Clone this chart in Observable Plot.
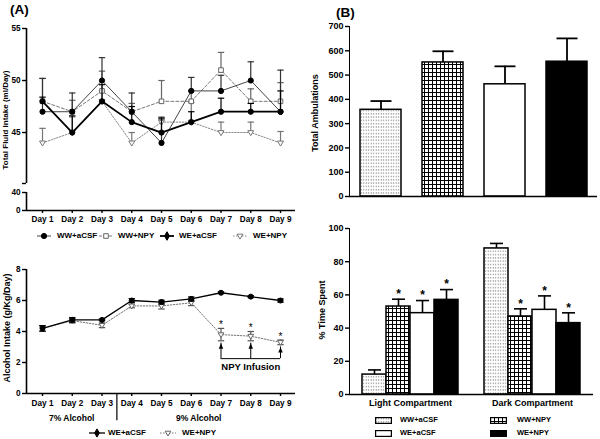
<!DOCTYPE html>
<html><head><meta charset="utf-8">
<script src="https://cdn.jsdelivr.net/npm/d3@7"></script>
<script src="https://cdn.jsdelivr.net/npm/@observablehq/plot@0.6"></script>
<style>
body{margin:0;background:#fff;}
#fig{position:relative;width:600px;height:439px;overflow:hidden;background:#fff;font-family:"Liberation Sans",Arial,Helvetica,sans-serif;font-weight:bold;color:#000;}
.lbl{position:absolute;white-space:nowrap;font-weight:bold;line-height:1;}
.rot{transform:translate(-50%,-50%) rotate(-90deg);}
.ctr{transform:translate(0,-50%);}
#fig svg [aria-label$="tick"] path, #fig svg [aria-label$="tick"] line{stroke-width:1.4;}
#fig svg text{fill:#000;}
</style></head><body>
<svg width="0" height="0" style="position:absolute">
  <defs>
    <pattern id="dots" width="2.5" height="3.3" patternUnits="userSpaceOnUse">
      <rect width="2.5" height="3.3" fill="#fff"/>
      <rect x="0.7" y="1.1" width="1" height="1" fill="#555"/>
    </pattern>
    <pattern id="grid" width="4" height="4" patternUnits="userSpaceOnUse">
      <rect width="4" height="4" fill="#fff"/>
      <path d="M0 0.5H4M0.5 0V4" stroke="#000" stroke-width="1"/>
    </pattern>
  </defs>
</svg>
<div id="fig"></div>
<script>
// ---------------- DATA ----------------
const groups = ["WW+aCSF", "WW+NPY", "WE+aCSF", "WE+NPY"];
const days = [1, 2, 3, 4, 5, 6, 7, 8, 9];

// (A) top: Total fluid intake (ml/day), mean and upper SEM
const fluidWWaCSF    = [47, 47, 50, 47, 44, 49, 49, 50, 47];
const fluidWWaCSFErr = [3.2, 1.8, 2.2, 1.8, 2.3, 1.3, 1.5, 1.8, 4.0];
const fluidWWNPY     = [48, 47, 49, 47, 48, 48, 51, 48, 48];
const fluidWWNPYErr  = [2.2, 1.1, 1.9, 0.8, 2.0, 1.0, 1.7, 1.2, 1.8];
const fluidWEaCSF    = [48, 45, 48, 46, 45, 46, 47, 47, 47];
const fluidWEaCSFErr = [0.4, 1.6, 1.6, 1.5, 1.4, 1.0, 1.3, 0.8, 2.0];
const fluidWENPY     = [44, 45, 48, 44, 46, 46, 45, 45, 44];
const fluidWENPYErr  = [1.4, 1.5, 1.0, 1.0, 0.5, 1.9, 1.0, 1.0, 1.1];
const fluidUpperTicks = [45, 50, 55];
const fluidLowerTicks = [0, 40];
const fluidBreak = 40.1; // axis break just above 40

// (A) bottom: Alcohol intake (g/kg/day)
const alcGroups = ["WE+aCSF", "WE+NPY"];
const alcWEaCSF    = [4.2, 4.75, 4.75, 6.0, 5.9, 6.1, 6.5, 6.25, 6.0];
const alcWEaCSFErr = [0.18, 0.15, 0.05, 0.12, 0.12, 0.13, 0.05, 0.06, 0.1];
const alcWENPY     = [4.2, 4.7, 4.4, 5.65, 5.65, 5.85, 3.8, 3.7, 3.3];
const alcWENPYErr  = [0.18, 0.15, 0.15, 0.12, 0.2, 0.18, 0.4, 0.3, 0.15];
const alcTicks = [0, 2, 4, 6, 8];
const infusionDays = [7, 8, 9];
const infusionLabel = "NPY Infusion";
const phaseLabels = ["7% Alcohol", "9% Alcohol"];
const phaseSplit = 3.5; // between Day 3 and Day 4

// (B) top: Total ambulations
const ambValues = [357, 552, 462, 555];
const ambErr    = [36, 46, 74, 96];
const ambTicks = [0, 100, 200, 300, 400, 500, 600, 700];

// (B) bottom: % time spent
const compartments = ["Light Compartment", "Dark Compartment"];
const lightValues = [12, 53, 49, 57];
const lightErr    = [2.8, 4.4, 7.6, 6.2];
const lightSig    = [false, true, true, true];
const darkValues  = [88, 47, 51, 43];
const darkErr     = [3.0, 4.6, 8.4, 6.2];
const darkSig     = [false, true, true, true];
const pctTicks = [0, 20, 40, 60, 80, 100];

// ---------------- HELPERS ----------------
const fig = document.getElementById("fig");
const font = '"Liberation Sans", Arial, Helvetica, sans-serif';
const capSym = {draw(ctx, size) {const r = Math.sqrt(size / Math.PI); ctx.moveTo(-r, 0); ctx.lineTo(r, 0);}};
const triDown = {draw(ctx, size) {const r = Math.sqrt(size / Math.PI) * 1.2; ctx.moveTo(0, r); ctx.lineTo(-r * 0.95, -r * 0.6); ctx.lineTo(r * 0.95, -r * 0.6); ctx.closePath();}};
const triUp = {draw(ctx, size) {const r = Math.sqrt(size / Math.PI); ctx.moveTo(0, -r); ctx.lineTo(-r * 0.8, r * 0.9); ctx.lineTo(r * 0.8, r * 0.9); ctx.closePath();}};

const lineStyle = {
  "WW+aCSF": {stroke: "#444", width: 1, dash: undefined, symbol: d3.symbolCircle, legendSymbol: d3.symbolCircle, fill: "#000", mstroke: "#000", err: "#333"},
  "WW+NPY":  {stroke: "#777", width: 1, dash: "3,2", symbol: d3.symbolSquare, legendSymbol: d3.symbolSquare, fill: "#fff", mstroke: "#666", err: "#666"},
  "WE+aCSF": {stroke: "#000", width: 1.8, dash: undefined, symbol: d3.symbolCircle, legendSymbol: d3.symbolDiamond, fill: "#000", mstroke: "#000", err: "#000"},
  "WE+NPY":  {stroke: "#888", width: 1, dash: "1.5,1.5", symbol: triDown, legendSymbol: triDown, fill: "#fff", mstroke: "#777", err: "#777"}
};
const barFill = ["url(#dots)", "url(#grid)", "#fff", "#000"];

function place(svg, left, top) {
  svg.style.position = "absolute";
  svg.style.left = left + "px";
  svg.style.top = top + "px";
  svg.style.overflow = "visible";
  svg.style.background = "transparent";
  fig.appendChild(svg);
}
function label(text, x, y, size, cls) {
  const d = document.createElement("div");
  d.className = "lbl " + (cls || "");
  d.style.left = x + "px"; d.style.top = y + "px"; d.style.fontSize = size + "px";
  d.textContent = text;
  fig.appendChild(d);
  return d;
}
function lineSwatch(st, w, r) {
  const s = d3.create("svg").attr("width", w).attr("height", 10).style("position", "absolute").style("overflow", "visible");
  s.append("line").attr("x1", 0).attr("x2", w).attr("y1", 5).attr("y2", 5)
    .attr("stroke", st.stroke).attr("stroke-width", st.width).attr("stroke-dasharray", st.dash || null);
  s.append("path").attr("transform", `translate(${w / 2},5)`)
    .attr("d", d3.symbol(st.legendSymbol, Math.PI * r * r)())
    .attr("fill", st.fill).attr("stroke", st.mstroke).attr("stroke-width", 1);
  return s.node();
}
function boxSwatch(fill, w, h) {
  const s = d3.create("svg").attr("width", w).attr("height", h).style("position", "absolute").style("overflow", "visible");
  s.append("rect").attr("x", 0.6).attr("y", 0.6).attr("width", w - 1.2).attr("height", h - 1.2)
    .attr("fill", fill).attr("stroke", "#000").attr("stroke-width", 1.2);
  return s.node();
}

const xDom = [0.462, 9.504];
const baseStyle = {fontFamily: font, fontSize: "8.2px", fontWeight: "bold", background: "transparent", color: "#000"};

function seriesMarks(rows, st, twoSided, r) {
  return [
    Plot.ruleX(rows, {x: "day", y1: d => twoSided ? d.value - d.err : d.value, y2: d => d.value + d.err, stroke: st.err, strokeWidth: 1.2}),
    Plot.dot(rows, {x: "day", y: d => d.value + d.err, symbol: capSym, r: 3.2, stroke: st.err, strokeWidth: 1.2, fill: "none"}),
    ...(twoSided ? [Plot.dot(rows, {x: "day", y: d => d.value - d.err, symbol: capSym, r: 3.2, stroke: st.err, strokeWidth: 1.2, fill: "none"})] : []),
    Plot.line(rows, {x: "day", y: "value", stroke: st.stroke, strokeWidth: st.width, strokeDasharray: st.dash}),
    Plot.dot(rows, {x: "day", y: "value", symbol: st.symbol, r: r, fill: st.fill, stroke: st.mstroke, strokeWidth: 1})
  ];
}

// ---------------- (A) TOP (broken y axis: upper part) ----------------
const fluidVals = [fluidWWaCSF, fluidWWNPY, fluidWEaCSF, fluidWENPY];
const fluidErrs = [fluidWWaCSFErr, fluidWWNPYErr, fluidWEaCSFErr, fluidWENPYErr];
const fluidRows = groups.flatMap((g, gi) => days.map((d, i) => ({day: d, series: g, value: fluidVals[gi][i], err: fluidErrs[gi][i]})));
const drawOrder = ["WE+NPY", "WW+NPY", "WW+aCSF", "WE+aCSF"];
const fluidTop = fluidUpperTicks[fluidUpperTicks.length - 1];

const fluidPlot = Plot.plot({
  width: 300, height: 186, marginLeft: 26, marginRight: 5, marginTop: 28, marginBottom: 3,
  style: baseStyle,
  x: {domain: xDom, axis: null},
  y: {domain: [fluidBreak, fluidTop], ticks: [fluidBreak, ...fluidUpperTicks], tickFormat: d => d === fluidBreak ? "" : d, tickSize: 4, tickPadding: 2, label: null},
  marks: [
    Plot.ruleX([{y1: fluidBreak, y2: fluidTop}], {x: () => xDom[0], y1: "y1", y2: "y2", stroke: "#000", strokeWidth: 1.6}),
    ...drawOrder.flatMap(g => seriesMarks(fluidRows.filter(r => r.series === g), lineStyle[g], false, 2.6))
  ]
});
place(fluidPlot, 0, 0);

// lower part of the broken axis (0–40) with the day axis
const fluidLowPlot = Plot.plot({
  width: 300, height: 42, marginLeft: 26, marginRight: 5, marginTop: 6, marginBottom: 18,
  style: baseStyle,
  x: {domain: xDom, ticks: days, tickFormat: d => `Day ${d}`, tickSize: 3, tickPadding: 2.5, label: null},
  y: {domain: [fluidLowerTicks[0], fluidLowerTicks[1]], ticks: fluidLowerTicks, tickSize: 4, tickPadding: 2, label: null},
  marks: [
    Plot.ruleY([0], {stroke: "#000", strokeWidth: 1.6}),
    Plot.ruleX([{y1: fluidLowerTicks[0], y2: fluidLowerTicks[1]}], {x: () => xDom[0], y1: "y1", y2: "y2", stroke: "#000", strokeWidth: 1.6})
  ]
});
place(fluidLowPlot, 0, 186);

// ---------------- (A) BOTTOM ----------------
const alcVals = [alcWEaCSF, alcWENPY];
const alcErrs = [alcWEaCSFErr, alcWENPYErr];
const alcRows = alcGroups.flatMap((g, gi) => days.map((d, i) => ({day: d, series: g, value: alcVals[gi][i], err: alcErrs[gi][i]})));
const npyRows = alcRows.filter(r => r.series === "WE+NPY");
const infusionRows = npyRows.filter(r => infusionDays.includes(r.day));
const bracketLevel = 2.25, infusionTextLevel = 1.72, phaseRuleDepth = -1.75;
const phases = [
  {label: phaseLabels[0], start: xDom[0], end: phaseSplit},
  {label: phaseLabels[1], start: phaseSplit, end: days[days.length - 1]}
];
const alcStyle = {
  "WE+aCSF": {stroke: "#000", width: 1.3, symbol: d3.symbolCircle, legendSymbol: d3.symbolDiamond, fill: "#000", mstroke: "#000", err: "#000"},
  "WE+NPY": {stroke: "#777", width: 1, dash: "1.5,1.5", symbol: triDown, legendSymbol: triDown, fill: "#fff", mstroke: "#666", err: "#555"}
};

const alcPlot = Plot.plot({
  width: 300, height: 175, marginLeft: 26, marginRight: 5, marginTop: 19, marginBottom: 32,
  style: baseStyle,
  x: {domain: xDom, ticks: days, tickFormat: d => `Day ${d}`, tickSize: 3, tickPadding: 4, label: null},
  y: {domain: [alcTicks[0], alcTicks[alcTicks.length - 1]], ticks: alcTicks, tickSize: 4, tickPadding: 2, label: null},
  marks: [
    Plot.ruleY([0], {stroke: "#000", strokeWidth: 1.6}),
    Plot.ruleX([{y1: alcTicks[0], y2: alcTicks[alcTicks.length - 1]}], {x: () => xDom[0], y1: "y1", y2: "y2", stroke: "#000", strokeWidth: 1.6}),
    Plot.ruleX([phaseSplit], {y1: 0, y2: phaseRuleDepth, stroke: "#000", strokeWidth: 1.2}),
    Plot.text(phases, {x: d => (d.start + d.end) / 2, y: 0, dy: 24.5, text: "label", fontSize: 8.5, fill: "#000"}),
    ...["WE+NPY", "WE+aCSF"].flatMap(g => seriesMarks(alcRows.filter(r => r.series === g), alcStyle[g], true, 2.5)),
    Plot.text(infusionRows, {x: "day", y: d => d.value + d.err, dy: -3.5, text: () => "*", fontSize: 10, fontWeight: "normal", fill: "#000"}),
    Plot.ruleY([bracketLevel], {x1: infusionDays[0], x2: infusionDays[infusionDays.length - 1], stroke: "#000", strokeWidth: 1}),
    Plot.ruleX(infusionRows, {x: "day", y1: bracketLevel, y2: d => d.value - d.err - 0.15, stroke: "#000", strokeWidth: 1}),
    Plot.dot(infusionRows, {x: "day", y: d => d.value - d.err - 0.15, dy: 3, symbol: triUp, r: 2.8, fill: "#000", stroke: "none"}),
    Plot.text([infusionLabel], {x: infusionDays[1], y: infusionTextLevel, text: d => d, fontSize: 9.5, fill: "#000"})
  ]
});
place(alcPlot, 0, 250);

// ---------------- (B) TOP ----------------
const ambRows = groups.map((g, i) => ({series: g, value: ambValues[i], err: ambErr[i]}));
const ambPlot = Plot.plot({
  width: 300, height: 220, marginLeft: 49, marginRight: 3, marginTop: 26, marginBottom: 24,
  style: {...baseStyle, fontSize: "9px"},
  x: {domain: groups, axis: null, paddingInner: 0.34, paddingOuter: 0.17},
  y: {domain: [0, 700], ticks: ambTicks, tickSize: 4, tickPadding: 2, label: null, line: true},
  color: {domain: groups, range: barFill},
  marks: [
    Plot.ruleX(ambRows, {x: "series", y1: "value", y2: d => d.value + d.err, stroke: "#000", strokeWidth: 1.8}),
    Plot.dot(ambRows, {x: "series", y: d => d.value + d.err, symbol: capSym, r: 10.5, stroke: "#000", strokeWidth: 1.8, fill: "none"}),
    Plot.barY(ambRows, {x: "series", y: "value", fill: "series", stroke: "#000", strokeWidth: 1.5}),
    Plot.ruleY([0], {stroke: "#000", strokeWidth: 1.6})
  ]
});
place(ambPlot, 300, 0);

// ---------------- (B) BOTTOM ----------------
const compVals = [lightValues, darkValues], compErrs = [lightErr, darkErr], compSig = [lightSig, darkSig];
const compRows = compartments.flatMap((c, ci) => groups.map((g, i) => ({compartment: c, series: g, value: compVals[ci][i], err: compErrs[ci][i], sig: compSig[ci][i]})));
const pctPlot = Plot.plot({
  width: 300, height: 219, marginLeft: 49, marginRight: 6.5, marginTop: 8, marginBottom: 45,
  style: {...baseStyle, fontSize: "9px"},
  facet: {data: compRows, x: "compartment"},
  fx: {domain: compartments, padding: 0, axis: "bottom", label: null, tickSize: 0, tickPadding: 5},
  x: {domain: groups, axis: null, paddingInner: 0, paddingOuter: 0.53},
  y: {domain: [0, 100], ticks: pctTicks, tickSize: 4, tickPadding: 2, label: null, line: true},
  color: {domain: groups, range: barFill},
  marks: [
    Plot.ruleX(compRows, {x: "series", y1: "value", y2: d => d.value + d.err, stroke: "#000", strokeWidth: 1.6}),
    Plot.dot(compRows, {x: "series", y: d => d.value + d.err, symbol: capSym, r: 6.5, stroke: "#000", strokeWidth: 1.6, fill: "none"}),
    Plot.barY(compRows, {x: "series", y: "value", fill: "series", stroke: "#000", strokeWidth: 1.5}),
    Plot.text(compRows, {filter: d => d.sig, x: "series", y: d => d.value + d.err, dy: -5, text: () => "*", fontSize: 12, fill: "#000"}),
    Plot.ruleY([0], {stroke: "#000", strokeWidth: 1.6})
  ]
});
place(pctPlot, 300, 220);

// ---------------- TEXT, LEGENDS ----------------
label("(A)", 10, 10, 13.5, "ctr");
label("(B)", 336, 13, 13.5, "ctr");
label("Total Fluid Intake (ml/Day)", 6, 120, 8, "rot");
label("Alcohol Intake (g/Kg/Day)", 7, 328, 9, "rot");
label("Total Ambulations", 315, 113, 9, "rot");
label("% Time Spent", 322, 310, 9, "rot");

// (A) top legend
const legA = [[37, 57], [99, 118], [160, 179], [233, 253]];
groups.forEach((g, i) => {
  const sw = lineSwatch(lineStyle[g], 14, 2.6);
  sw.style.left = legA[i][0] + "px"; sw.style.top = "231px";
  fig.appendChild(sw);
  label(g, legA[i][1], 236, 8, "ctr");
});
// (A) bottom legend
const legA2 = [[89, 108], [160, 182]];
alcGroups.forEach((g, i) => {
  const sw = lineSwatch(alcStyle[g], 16, 2.5);
  sw.style.left = legA2[i][0] + "px"; sw.style.top = "428px";
  fig.appendChild(sw);
  label(g, legA2[i][1], 433, 8, "ctr");
});
// (B) bottom legend
const legB = [[375, 400, 420], [490, 517, 420], [375, 400, 433], [490, 517, 433]];
groups.forEach((g, i) => {
  const sw = boxSwatch(barFill[i], 17, 7);
  sw.style.left = legB[i][0] + "px"; sw.style.top = (legB[i][2] - 3.5) + "px";
  fig.appendChild(sw);
  label(g, legB[i][1], legB[i][2], 7.5, "ctr");
});
</script>
</body></html>
